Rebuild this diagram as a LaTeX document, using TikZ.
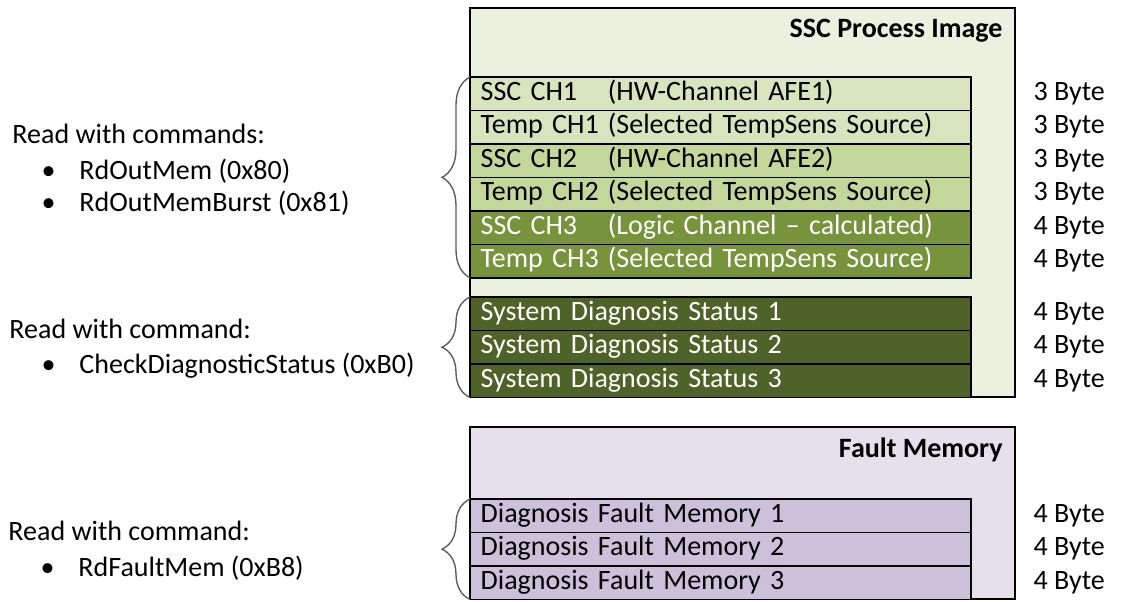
\documentclass[tikz,border=0pt]{standalone}
\usepackage{fontspec}
\setmainfont{Carlito}
\usetikzlibrary{positioning,decorations.pathreplacing}

\definecolor{sscback}{RGB}{235,241,222}
\definecolor{hwrow}{RGB}{215,228,189}
\definecolor{hwrowb}{RGB}{196,215,155}
\definecolor{logicrow}{RGB}{119,147,60}
\definecolor{diagrow}{RGB}{79,98,40}
\definecolor{faultback}{RGB}{230,224,236}
\definecolor{faultrow}{RGB}{204,193,218}
\definecolor{bracegray}{RGB}{89,89,89}

\newcommand\memfont{\fontsize{21pt}{25pt}\selectfont}
\newcommand\chname[1]{\makebox[95.5pt][l]{#1}}
\newcommand\cmditem[1]{\makebox[28.5pt][l]{\textbullet}#1}

\tikzset{every picture/.style={line width=0.75pt}}
\tikzset{
  memframe/.style={draw=black, line width=1.1pt, anchor=north west, inner sep=0pt, outer sep=0pt, minimum width=408.75pt},
  memrow/.style={draw=black, line width=1.1pt, anchor=north west, inner xsep=8pt, inner ysep=0pt, outer sep=0pt,
    text width=359.75pt, align=left, minimum height=25.1pt, text height=15pt, text depth=5pt, font=\memfont},
  bytelbl/.style={inner sep=0pt, text height=15pt, text depth=5pt, font=\memfont},
  memtitle/.style={inner sep=0pt, anchor=base east, font=\memfont\bfseries},
  cmdtext/.style={inner sep=0pt, anchor=base west, font=\memfont},
  cmdbrace/.style={draw=bracegray, line width=1pt, decorate, decoration={brace, amplitude=21pt}}
}

\begin{document}
\begin{tikzpicture}[x=0.75pt,y=0.75pt,yscale=-1,xscale=1]
\useasboundingbox (0,0) rectangle (1122,601);

% Frames
\node[memframe, fill=sscback, minimum height=291.75pt] (sscimg) at (470,8) {};
\node[memframe, fill=faultback, minimum height=129pt] (faultmem) at (470,427) {};
\node[memtitle] (ssctitle) at (1003,37) {SSC Process Image};
\node[memtitle] (faulttitle) at (1003,457) {Fault Memory};

% Process image rows
\node[memrow, fill=hwrow] (ssc1) at (470,77) {\chname{SSC CH1}(HW-Channel AFE1)};
\node[memrow, fill=hwrow, below=0pt of ssc1] (tmp1) {\chname{Temp CH1}(Selected TempSens Source)};
\node[memrow, fill=hwrowb, below=0pt of tmp1] (ssc2) {\chname{SSC CH2}(HW-Channel AFE2)};
\node[memrow, fill=hwrowb, below=0pt of ssc2] (tmp2) {\chname{Temp CH2}(Selected TempSens Source)};
\node[memrow, fill=logicrow, text=white, below=0pt of tmp2] (ssc3) {\chname{SSC CH3}(Logic Channel -- calculated)};
\node[memrow, fill=logicrow, text=white, below=0pt of ssc3] (tmp3) {\chname{Temp CH3}(Selected TempSens Source)};

% Diagnosis rows
\node[memrow, fill=diagrow, text=white] (diag1) at (470,297) {System Diagnosis Status 1};
\node[memrow, fill=diagrow, text=white, below=0pt of diag1] (diag2) {System Diagnosis Status 2};
\node[memrow, fill=diagrow, text=white, below=0pt of diag2] (diag3) {System Diagnosis Status 3};

% Fault memory rows
\node[memrow, fill=faultrow] (fm1) at (470,499) {Diagnosis Fault Memory 1};
\node[memrow, fill=faultrow, below=0pt of fm1] (fm2) {Diagnosis Fault Memory 2};
\node[memrow, fill=faultrow, below=0pt of fm2] (fm3) {Diagnosis Fault Memory 3};

% Sizes
\foreach \row/\size in {ssc1/3, tmp1/3, ssc2/3, tmp2/3, ssc3/4, tmp3/4, diag1/4, diag2/4, diag3/4, fm1/4, fm2/4, fm3/4}
  \node[bytelbl, right=46.5pt of \row] (b\row) {\size{} Byte};

% Commands
\node[cmdtext] (cmdout) at (12,143) {Read with commands:};
\node[cmdtext] (cmdouta) at (41,179) {\cmditem{RdOutMem (0x80)}};
\node[cmdtext] (cmdoutb) at (41,211) {\cmditem{RdOutMemBurst (0x81)}};
\node[cmdtext] (cmddiag) at (9,338) {Read with command:};
\node[cmdtext] (cmddiaga) at (41,373) {\cmditem{CheckDiagnosticStatus (0xB0)}};
\node[cmdtext] (cmdfault) at (8,540) {Read with command:};
\node[cmdtext] (cmdfaulta) at (40,576) {\cmditem{RdFaultMem (0xB8)}};

% Braces
\draw[cmdbrace] (tmp3.south west) -- (ssc1.north west);
\draw[cmdbrace] (diag3.south west) -- (diag1.north west);
\draw[cmdbrace] (fm3.south west) -- (fm1.north west);

\end{tikzpicture}
\end{document}
